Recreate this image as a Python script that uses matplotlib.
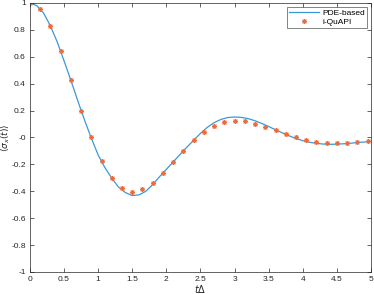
import numpy as np
import matplotlib
matplotlib.use("Agg")
import matplotlib.pyplot as plt
from matplotlib.ticker import FuncFormatter

# ----------------------------
# DATA
# ----------------------------
t_pde = np.arange(0, 51) * 0.1
sx_pde = [1.0, 0.98, 0.925, 0.83, 0.71, 0.57, 0.425, 0.275, 0.13, -0.005,
          -0.13, -0.225, -0.303, -0.37, -0.41, -0.432, -0.427, -0.4, -0.35, -0.292,
          -0.237, -0.182, -0.127, -0.073, -0.021, 0.03, 0.075, 0.11, 0.134, 0.148,
          0.152, 0.149, 0.14, 0.124, 0.104, 0.081, 0.057, 0.034, 0.012, -0.008,
          -0.024, -0.036, -0.044, -0.049, -0.051, -0.05, -0.047, -0.043, -0.038, -0.034,
          -0.03]

t_quapi = np.arange(0, 34) * 0.15
sx_quapi = [1.0, 0.955, 0.83, 0.645, 0.425, 0.20, 0.0, -0.177, -0.303, -0.378,
            -0.403, -0.385, -0.336, -0.264, -0.182, -0.100, -0.021, 0.041, 0.088, 0.113,
            0.123, 0.119, 0.103, 0.080, 0.053, 0.028, 0.001, -0.019, -0.033, -0.041,
            -0.043, -0.041, -0.036, -0.028]

# ----------------------------
# PLOT
# ----------------------------
plt.rcParams['font.family'] = ['Liberation Sans', 'DejaVu Sans']
plt.rcParams['axes.unicode_minus'] = False
plt.rcParams['mathtext.fontset'] = 'dejavusans'

fig = plt.figure(figsize=(3.74, 2.94), dpi=100)
ax = fig.add_axes([0.080, 0.075, 0.912, 0.915])

ax.plot(t_pde, sx_pde, color='#3b98d8', lw=0.9, label='PDE-based')
ax.plot(t_quapi, sx_quapi, ls='none', marker=(8, 2, 0), ms=3.6, mew=0.7,
        color='#ea6d40', label='i-QuAPI')

ax.set_xlim(0, 5)
ax.set_ylim(-1, 1)
ax.set_xticks(np.arange(0, 5.01, 0.5))
ax.set_yticks(np.arange(-1, 1.01, 0.2))
fmt = FuncFormatter(lambda v, p: f'{round(v, 2):g}')
ax.xaxis.set_major_formatter(fmt)
ax.yaxis.set_major_formatter(fmt)

gray = '#262626'
ax.tick_params(direction='in', top=True, right=True, labelsize=6,
               length=3, width=0.5, colors=gray, pad=3)
for s in ax.spines.values():
    s.set_linewidth(0.5)
    s.set_color(gray)

ax.set_xlabel(r'$t\Delta$', fontsize=7, labelpad=0, color=gray)
ax.set_ylabel(r'$\langle\sigma_x(t)\rangle$', fontsize=6.5, labelpad=0, color=gray)

leg = ax.legend(loc='upper right', fontsize=6, frameon=True, fancybox=False,
                edgecolor=gray, borderpad=0.25, handlelength=3.6,
                handletextpad=0.4, labelspacing=0.15, borderaxespad=0.5)
leg.get_frame().set_linewidth(0.5)

fig.savefig('out.png', dpi=100)
